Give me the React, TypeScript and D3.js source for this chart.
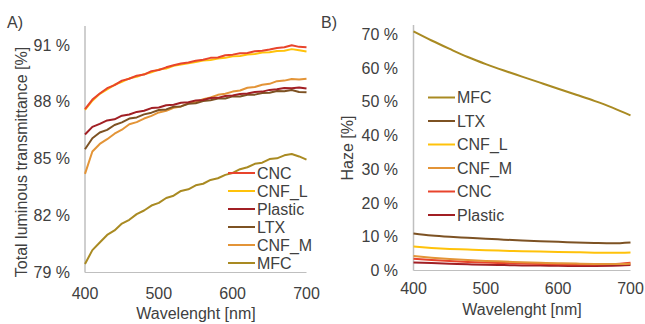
import * as d3 from 'd3';

// Panel A: total luminous transmittance (%) vs wavelength, every 10 nm
const wavelengthsA = d3.range(400, 701, 10);
const cncT = [87.62, 88.12, 88.44, 88.72, 88.88, 89.12, 89.22, 89.38, 89.44, 89.62, 89.68, 89.82, 89.93, 90.02, 90.08, 90.17, 90.22, 90.32, 90.34, 90.46, 90.49, 90.56, 90.58, 90.67, 90.69, 90.76, 90.84, 90.88, 90.98, 90.9, 90.88];
const cnfLT = [87.58, 88.06, 88.42, 88.66, 88.9, 89.06, 89.24, 89.32, 89.46, 89.56, 89.7, 89.76, 89.9, 89.97, 90.04, 90.1, 90.18, 90.21, 90.28, 90.32, 90.4, 90.42, 90.5, 90.52, 90.6, 90.61, 90.68, 90.7, 90.78, 90.72, 90.66];
const plasticT = [86.28, 86.68, 86.84, 87.02, 87.08, 87.27, 87.33, 87.47, 87.53, 87.67, 87.7, 87.82, 87.85, 87.95, 87.98, 88.07, 88.1, 88.2, 88.21, 88.31, 88.33, 88.42, 88.44, 88.52, 88.54, 88.63, 88.66, 88.73, 88.72, 88.76, 88.7];
const ltxT = [85.5, 86.08, 86.38, 86.52, 86.78, 86.92, 87.12, 87.18, 87.34, 87.43, 87.57, 87.6, 87.74, 87.76, 87.9, 87.93, 88.04, 88.08, 88.17, 88.18, 88.29, 88.28, 88.37, 88.38, 88.47, 88.48, 88.57, 88.56, 88.62, 88.52, 88.5];
const cnfMT = [84.2, 85.38, 85.78, 86.03, 86.32, 86.53, 86.82, 86.93, 87.12, 87.26, 87.44, 87.53, 87.69, 87.76, 87.92, 87.98, 88.14, 88.23, 88.37, 88.43, 88.54, 88.6, 88.74, 88.78, 88.9, 88.95, 89.09, 89.12, 89.2, 89.18, 89.22];
const mfcT = [79.45, 80.18, 80.58, 80.98, 81.22, 81.58, 81.78, 82.08, 82.27, 82.53, 82.67, 82.93, 83.05, 83.3, 83.39, 83.6, 83.68, 83.88, 83.97, 84.15, 84.25, 84.45, 84.55, 84.73, 84.79, 84.98, 85.02, 85.18, 85.25, 85.12, 84.95];

// Panel B: haze (%) vs wavelength, every 25 nm
const wavelengthsB = d3.range(400, 701, 25);
const mfcH = [70.9, 68.2, 65.7, 63.3, 61.2, 59.3, 57.5, 55.7, 53.9, 52.1, 50.3, 48.3, 46.0];
const ltxH = [11.0, 10.4, 10.0, 9.7, 9.4, 9.15, 8.9, 8.7, 8.5, 8.3, 8.15, 8.05, 8.3];
const cnfLH = [7.1, 6.7, 6.4, 6.2, 6.0, 5.85, 5.7, 5.6, 5.5, 5.4, 5.3, 5.25, 5.35];
const cnfMH = [4.3, 3.8, 3.4, 3.1, 2.85, 2.65, 2.45, 2.3, 2.15, 2.05, 1.95, 1.9, 2.0];
const cncH = [3.5, 3.1, 2.8, 2.55, 2.35, 2.2, 2.05, 1.95, 1.85, 1.8, 1.8, 1.9, 2.3];
const plasticH = [2.4, 2.2, 2.0, 1.85, 1.7, 1.6, 1.5, 1.45, 1.4, 1.35, 1.35, 1.4, 1.6];

const xTicks = [400, 500, 600, 700];
const yTicksA = [79, 82, 85, 88, 91];
const yTicksB = [0, 10, 20, 30, 40, 50, 60, 70];

const colors: Record<string, string> = {
  CNC: '#e8442c',
  CNF_L: '#ffc20a',
  Plastic: '#a11f24',
  LTX: '#7d5223',
  CNF_M: '#e39437',
  MFC: '#a98a22',
};

const seriesA = [
  { name: 'CNC', values: cncT },
  { name: 'CNF_L', values: cnfLT },
  { name: 'Plastic', values: plasticT },
  { name: 'LTX', values: ltxT },
  { name: 'CNF_M', values: cnfMT },
  { name: 'MFC', values: mfcT },
];

const seriesB = [
  { name: 'MFC', values: mfcH },
  { name: 'LTX', values: ltxH },
  { name: 'CNF_L', values: cnfLH },
  { name: 'CNF_M', values: cnfMH },
  { name: 'CNC', values: cncH },
  { name: 'Plastic', values: plasticH },
];

const FONT = 'Arial, "Liberation Sans", sans-serif';
const TEXT = '#404040';
const AXIS = '#bfbfbf';

export default function App() {
  const xA = d3.scaleLinear().domain([400, 700]).range([85, 306.5]);
  const yA = d3.scaleLinear().domain([79, 92]).range([272.5, 26]);
  const xB = d3.scaleLinear().domain([400, 700]).range([413.5, 630.5]);
  const yB = d3.scaleLinear().domain([0, 72.8]).range([270.5, 25]);

  const lineA = (vals: number[]) =>
    d3.line<number>().x((_, i) => xA(wavelengthsA[i])).y((d) => yA(d))(vals) ?? '';
  const lineB = (vals: number[]) =>
    d3.line<number>().x((_, i) => xB(wavelengthsB[i])).y((d) => yB(d)).curve(d3.curveMonotoneX)(vals) ?? '';

  return (
    <div style={{ position: 'fixed', left: 0, top: 0 }}>
      <svg width={645} height={324} style={{ display: 'block', background: '#fff' }} fontFamily={FONT}>
        {/* Panel A */}
        <text x={7} y={28} fontSize={16} fill={TEXT}>A)</text>
        <line x1={xA(400)} x2={xA(400)} y1={yA(92)} y2={yA(79)} stroke={AXIS} strokeWidth={1.5} />
        <line x1={xA(400)} x2={xA(700)} y1={yA(79)} y2={yA(79)} stroke={AXIS} strokeWidth={1} />
        {yTicksA.map((t) => (
          <text key={t} x={70} y={yA(t)} dy="0.35em" textAnchor="end" fontSize={16} fill={TEXT}>{`${t} %`}</text>
        ))}
        {xTicks.map((t) => (
          <text key={t} x={xA(t)} y={299} textAnchor="middle" fontSize={16} fill={TEXT}>{t}</text>
        ))}
        <text x={196} y={319} textAnchor="middle" fontSize={16} fill={TEXT}>Wavelenght [nm]</text>
        <text transform="translate(27,162) rotate(-90)" textAnchor="middle" fontSize={16} fill={TEXT}>
          Total luminous transmittance [%]
        </text>
        {[...seriesA].reverse().map((s) => (
          <path key={s.name} d={lineA(s.values)} fill="none" stroke={colors[s.name]} strokeWidth={2} strokeLinejoin="round" />
        ))}
        {seriesA.map((s, i) => (
          <g key={s.name} transform={`translate(228,${173 + i * 18})`}>
            <line x1={0} x2={27} y1={0} y2={0} stroke={colors[s.name]} strokeWidth={2} />
            <text x={29} y={0} dy="0.35em" fontSize={16} fill={TEXT}>{s.name}</text>
          </g>
        ))}

        {/* Panel B */}
        <text x={321} y={28} fontSize={16} fill={TEXT}>B)</text>
        <line x1={xB(400)} x2={xB(400)} y1={yB(72.8)} y2={yB(0)} stroke={AXIS} strokeWidth={1.5} />
        <line x1={xB(400)} x2={xB(700)} y1={yB(0)} y2={yB(0)} stroke={AXIS} strokeWidth={1} />
        {yTicksB.map((t) => (
          <text key={t} x={398} y={yB(t)} dy="0.35em" textAnchor="end" fontSize={16} fill={TEXT}>{`${t} %`}</text>
        ))}
        {xTicks.map((t) => (
          <text key={t} x={xB(t)} y={294} textAnchor="middle" fontSize={16} fill={TEXT}>{t}</text>
        ))}
        <text x={522} y={315} textAnchor="middle" fontSize={16} fill={TEXT}>Wavelenght [nm]</text>
        <text transform="translate(353,148) rotate(-90)" textAnchor="middle" fontSize={16} fill={TEXT}>Haze [%]</text>
        {[...seriesB].reverse().map((s) => (
          <path key={s.name} d={lineB(s.values)} fill="none" stroke={colors[s.name]} strokeWidth={2} />
        ))}
        {seriesB.map((s, i) => (
          <g key={s.name} transform={`translate(428,${97.5 + i * 23.5})`}>
            <line x1={0} x2={27} y1={0} y2={0} stroke={colors[s.name]} strokeWidth={2} />
            <text x={29} y={0} dy="0.35em" fontSize={16} fill={TEXT}>{s.name}</text>
          </g>
        ))}
      </svg>
    </div>
  );
}
